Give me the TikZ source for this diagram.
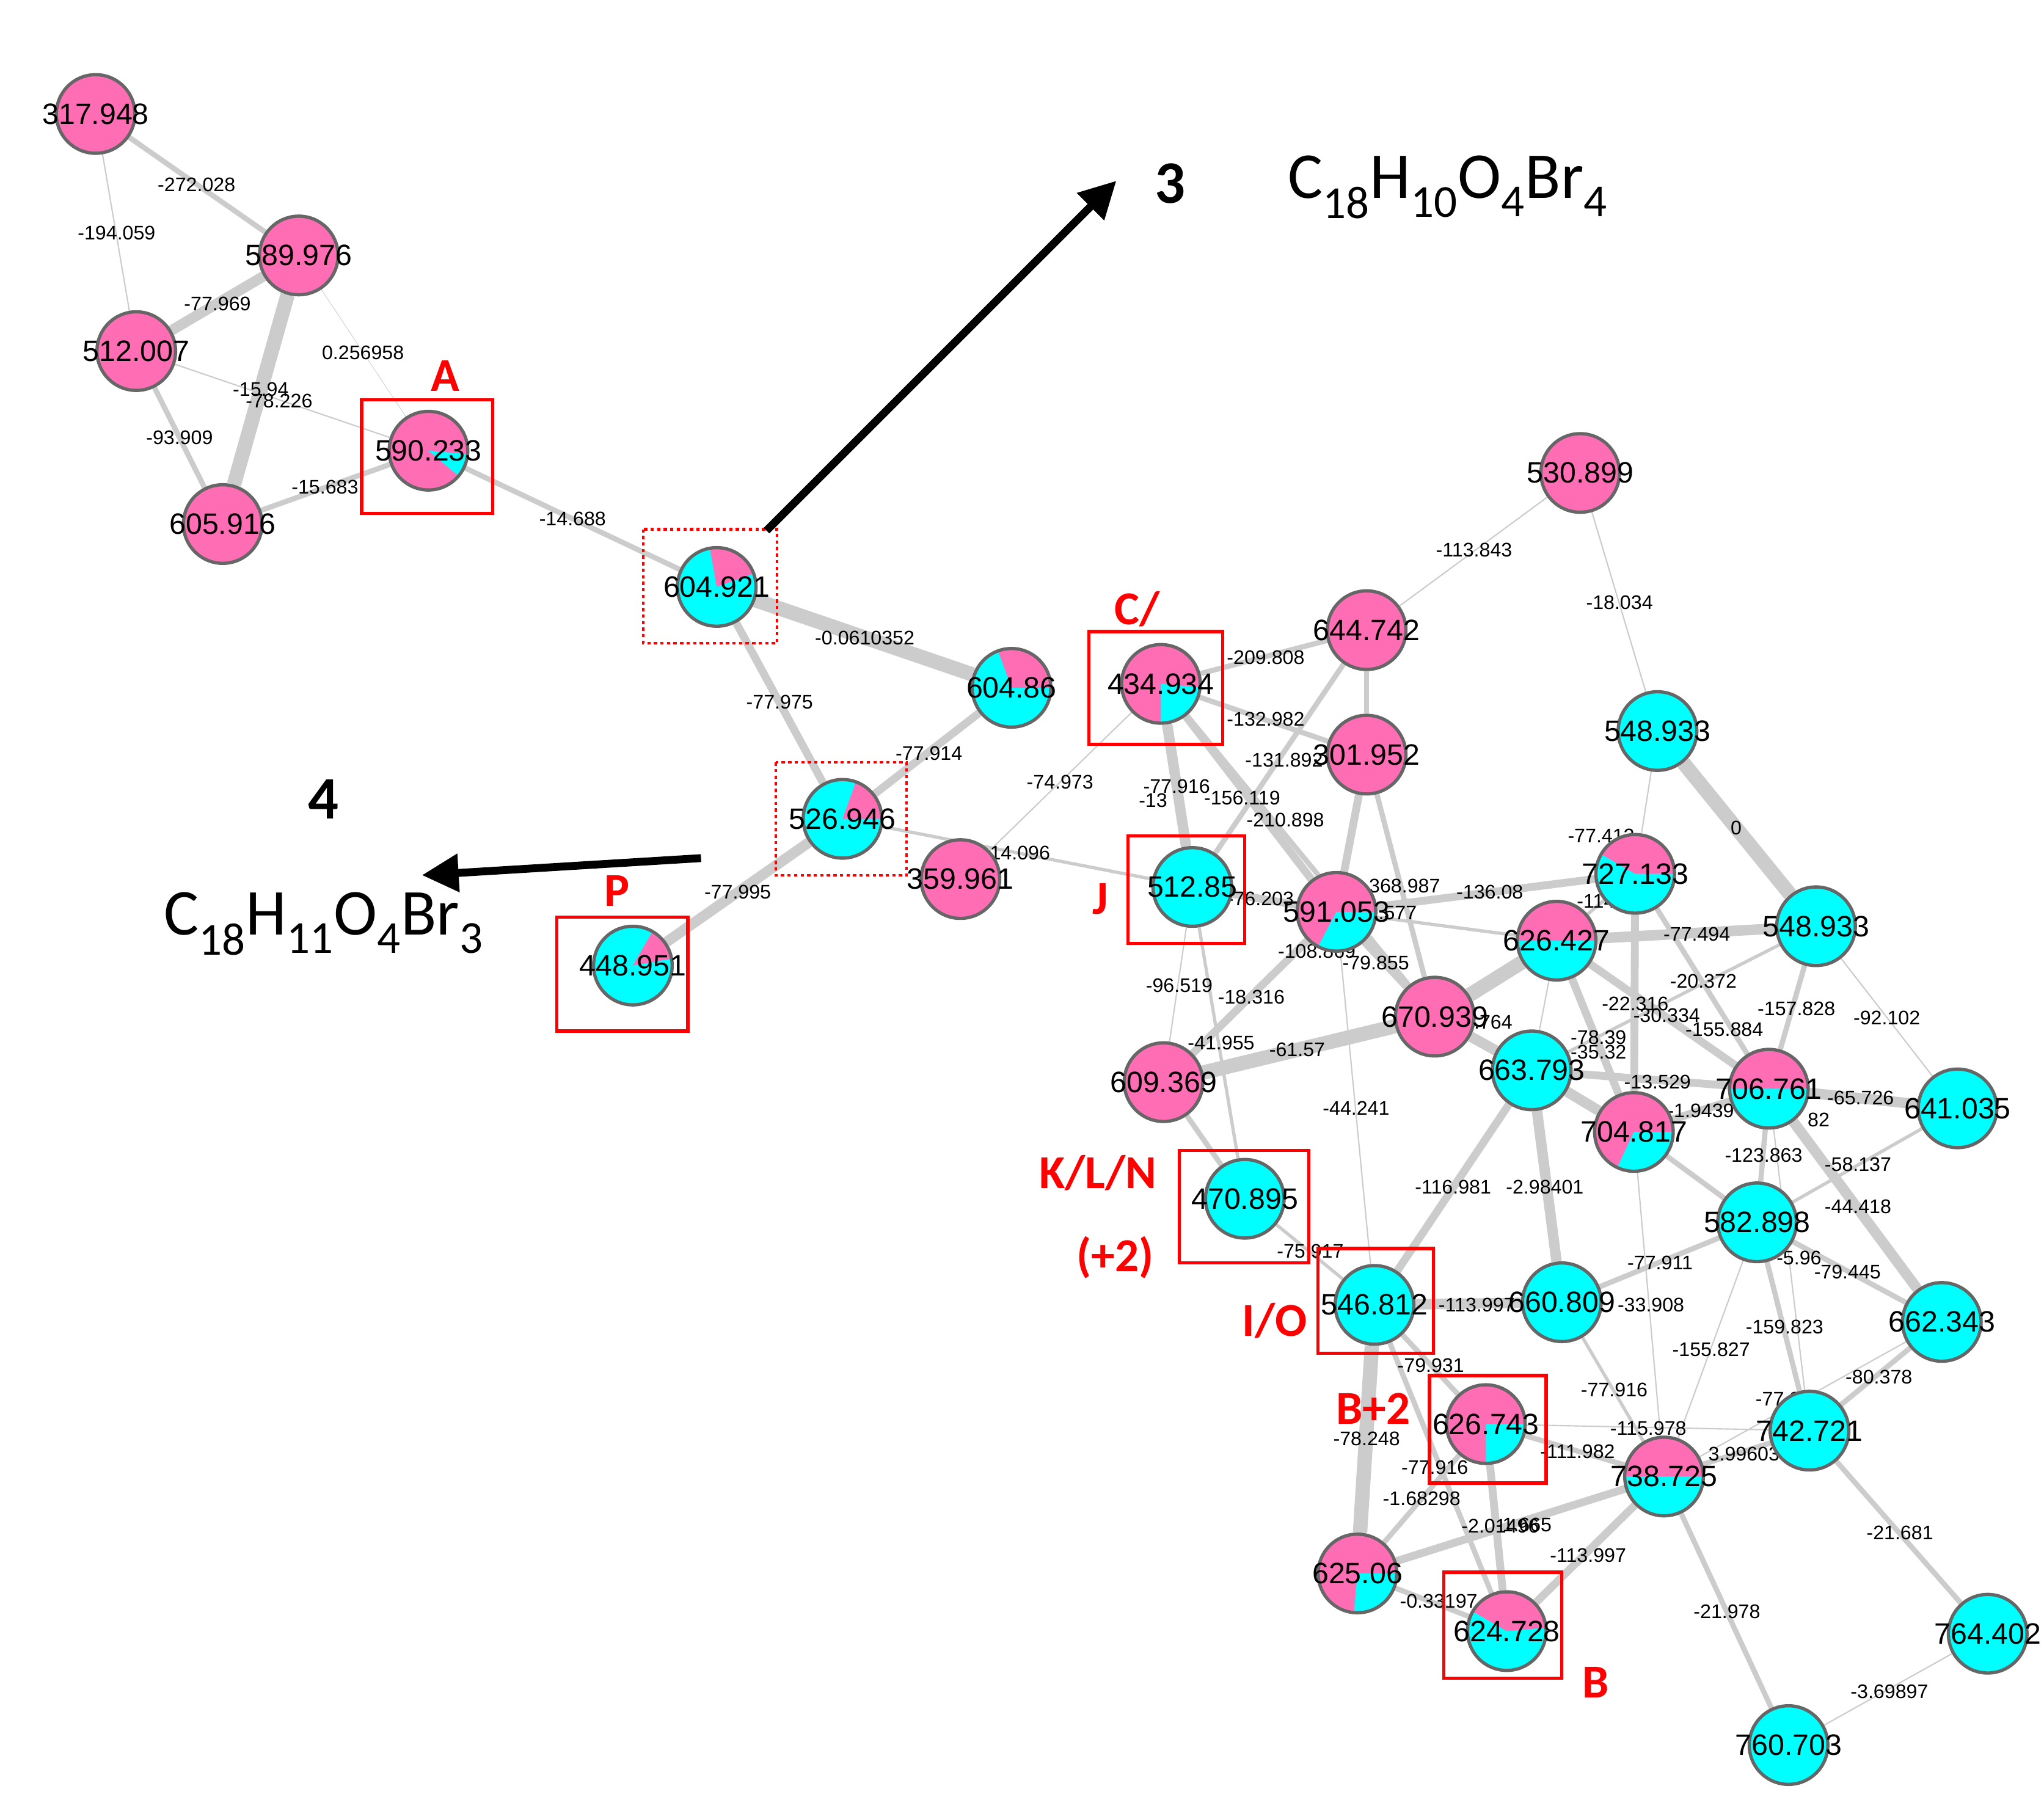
\documentclass[tikz,border=0pt]{standalone}
\usepackage{fontspec}
\setmainfont{Liberation Sans}
\newfontfamily\crlf{Carlito}
\usetikzlibrary{arrows.meta}
\definecolor{pk}{HTML}{FF6EB4}
\definecolor{cy}{HTML}{00FFFF}
\definecolor{eg}{HTML}{CCCCCC}
\definecolor{bd}{HTML}{666666}
\pgfdeclarelayer{bg}\pgfdeclarelayer{lab}
\pgfsetlayers{bg,lab,main}
\newcommand\pn[8]{%
 \fill[#5] (#2,#3) circle[radius=30pt];
 \fill[#6] (#2,#3) -- ++(#7:30pt) arc[start angle=#7,end angle=#8,radius=30pt] -- cycle;
 \node[nd,label={[font=\fontsize{22.5}{23}\selectfont]center:#4}] (#1) at (#2,#3) {};}
\newcommand\el[3]{\node[elab] at (#1,#2) {#3};}
\newcommand\sbs[1]{\textsubscript{#1}}
\begin{document}
\begin{tikzpicture}[x=1pt,y=-1pt,
 nd/.style={circle,draw=bd,line width=2.5pt,minimum size=60pt,inner sep=0pt},
 elab/.style={font=\fontsize{15}{15}\selectfont,inner sep=0pt},
 e1/.style={draw=eg,line width=1pt},
 e2/.style={draw=eg,line width=2.5pt},
 e3/.style={draw=eg,line width=4pt},
 e4/.style={draw=eg,line width=6pt},
 e5/.style={draw=eg,line width=8pt},
 e6/.style={draw=eg,line width=11pt},
 rb/.style={draw=red,line width=2.5pt},
 rd/.style={draw=red,line width=2pt,dash pattern=on 2.5pt off 2.5pt},
 rl/.style={text=red,font=\crlf\bfseries\fontsize{36}{36}\selectfont,inner sep=0pt}]
\useasboundingbox (0,0) rectangle (1560,1380);
% nodes
\pn{a1}{73}{87}{317.948}{pk}{pk}{0}{0}
\pn{a2}{228}{195}{589.976}{pk}{pk}{0}{0}
\pn{a3}{104}{268}{512.007}{pk}{pk}{0}{0}
\pn{a4}{170}{400}{605.916}{pk}{pk}{0}{0}
\pn{a5}{327}{344}{590.233}{pk}{cy}{-40}{-5}
\pn{b1}{547}{448}{604.921}{cy}{pk}{20}{100}
\pn{b2}{772}{525}{604.86}{cy}{pk}{0}{110}
\pn{b3}{643}{625}{526.946}{cy}{pk}{0}{70}
\pn{b4}{733}{671}{359.961}{pk}{pk}{0}{0}
\pn{b5}{483}{737}{448.951}{cy}{pk}{10}{60}
\pn{c1}{886}{522}{434.934}{pk}{cy}{-90}{-5}
\pn{c2}{1043}{481}{644.742}{pk}{pk}{0}{0}
\pn{c3}{1043}{576}{301.952}{pk}{pk}{0}{0}
\pn{c4}{1206}{361}{530.899}{pk}{pk}{0}{0}
\pn{c5}{1265}{558}{548.933}{cy}{cy}{0}{0}
\pn{d1}{910}{677}{512.85}{cy}{cy}{0}{0}
\pn{d2}{1020}{696}{591.053}{pk}{cy}{-118}{0}
\pn{d3}{1248}{667}{727.133}{cy}{pk}{0}{150}
\pn{d4}{1188}{718}{626.427}{cy}{pk}{0}{180}
\pn{d5}{1386}{707}{548.933}{cy}{cy}{0}{0}
\pn{e1}{1095}{776}{670.939}{pk}{pk}{0}{0}
\pn{e2}{888}{826}{609.369}{pk}{pk}{0}{0}
\pn{e3}{1169}{817}{663.793}{cy}{cy}{0}{0}
\pn{e4}{1247}{864}{704.817}{pk}{cy}{-115}{0}
\pn{e5}{1350}{831}{706.761}{cy}{pk}{0}{180}
\pn{e6}{1494}{846}{641.035}{cy}{cy}{0}{0}
\pn{f1}{950}{915}{470.895}{cy}{cy}{0}{0}
\pn{f2}{1341}{933}{582.898}{cy}{cy}{0}{0}
\pn{f3}{1049}{996}{546.812}{cy}{cy}{0}{0}
\pn{f4}{1192}{994}{660.809}{cy}{cy}{0}{0}
\pn{f5}{1482}{1009}{662.343}{cy}{cy}{0}{0}
\pn{g1}{1134}{1087}{626.743}{pk}{cy}{-90}{0}
\pn{g2}{1381}{1092}{742.721}{cy}{cy}{0}{0}
\pn{g3}{1270}{1127}{738.725}{cy}{pk}{0}{180}
\pn{g4}{1036}{1201}{625.06}{pk}{cy}{-95}{0}
\pn{g5}{1150}{1245}{624.728}{cy}{pk}{5}{150}
\pn{g6}{1517}{1247}{764.402}{cy}{cy}{0}{0}
\pn{g7}{1365}{1332}{760.703}{cy}{cy}{0}{0}
% edges
\begin{pgfonlayer}{bg}
\path[e3] (a1)--(a2); \path[e1] (a1)--(a3); \path[e5] (a3)--(a2);
\path[e6] (a2)--(a4); \path[e1] (a3)--(a5); \path[draw=eg,line width=0.4pt] (a2)--(a5);
\path[e3] (a3)--(a4); \path[e3] (a4)--(a5); \path[e3] (a5)--(b1);
\path[e6] (b1)--(b2); \path[e4] (b1)--(b3); \path[e4] (b3)--(b2);
\path[e5] (b3)--(b5); \path[e2] (b3)--(d1); \path[e1] (b4)--(c1);
\path[e3] (c1)--(c2); \path[e3] (c1)--(c3); \path[e5] (c1)--(d1);
\path[e4] (c1)--(d2); \path[e3] (c1)--(e1);
\path[e3] (c2)--(d1); \path[e3] (c2)--(c3); \path[e1] (c4)--(c2);
\path[e4] (c3)--(d2); \path[e3] (c3)--(e1); \path[e1] (c4)--(c5);
\path[e4] (d1)--(d2); \path[e1] (d1)--(e2); \path[e2] (d1)--(f1);
\path[e4] (d2)--(e2); \path[e4] (d2)--(d3); \path[e2] (d2)--(d4);
\path[e4] (d2)--(e1); \path[e1] (d2)--(f3);
\path[e6] (e1)--(e2); \path[e6] (e1)--(d4); \path[e5] (e1)--(e3);
\path[e5] (d4)--(d5); \path[e2] (d4)--(d3); \path[e4] (d4)--(e4);
\path[e4] (d4)--(e5); \path[e1] (d4)--(e3);
\path[e1] (d3)--(c5); \path[e4] (d3)--(e4); \path[e3] (d3)--(e5);
\path[e6] (c5)--(d5); \path[e3] (d5)--(e5); \path[e1] (d5)--(e6);
\path[e2] (d5)--(e3);
\path[e5] (e3)--(e4); \path[e4] (e3)--(e5); \path[e4] (e3)--(f3); \path[e5] (e3)--(f4);
\path[e4] (e4)--(e5); \path[e3] (e4)--(f2); \path[e1] (e4)--(g3);
\path[e5] (e5)--(e6); \path[e3] (e5)--(f2); \path[e5] (e5)--(f5);
\path[e2] (e6)--(f2); \path[e3] (f2)--(f4); \path[e3] (f2)--(f5);
\path[e3] (f2)--(g2); \path[e1] (f2)--(g3); \path[e1] (e5)--(g2);
\path[e3] (f5)--(g2); \path[e1] (f5)--(g3);
\path[e3] (f1)--(e2); \path[e2] (f1)--(f3);
\path[e5] (f3)--(f4); \path[e3] (f3)--(g1); \path[e6] (f3)--(g4); \path[e3] (f3)--(g5);
\path[e2] (f4)--(g3); \path[e3] (g1)--(g3); \path[e1] (g1)--(g2);
\path[e4] (g1)--(g5); \path[e3] (g1)--(g4);
\path[e4] (g4)--(g3); \path[e3] (g4)--(g5); \path[e4] (g5)--(g3);
\path[e3] (g3)--(g2); \path[e3] (g3)--(g7); \path[e3] (g2)--(g6); \path[e1] (g6)--(g7);
\end{pgfonlayer}
% edge labels
\begin{pgfonlayer}{lab}
\el{150}{141}{-272.028}\el{89}{178}{-194.059}\el{166}{232}{-77.969}
\el{277}{269}{0.256958}\el{199}{297}{-15.94}\el{213}{306}{-78.226}
\el{137}{334}{-93.909}\el{248}{372}{-15.683}\el{437}{396}{-14.688}
\el{660}{487}{-0.0610352}\el{595}{536}{-77.975}\el{709}{575}{-77.914}
\el{809}{597}{-74.973}\el{776}{651}{-14.096}\el{563}{681}{-77.995}
\el{966}{502}{-209.808}\el{966}{549}{-132.982}\el{980}{580}{-131.892}
\el{898}{600}{-77.916}\el{880}{611}{-13}\el{948}{609}{-156.119}
\el{981}{626}{-210.898}\el{962}{686}{-76.203}\el{1072}{676}{368.987}
\el{1137}{681}{-136.08}\el{1060}{697}{-1.577}\el{1005}{726}{-108.869}
\el{1050}{735}{-79.855}\el{900}{752}{-96.519}\el{955}{761}{-18.316}
\el{932}{796}{-41.955}\el{990}{801}{-61.57}\el{1035}{846}{-44.241}
\el{1133}{780}{-9.764}\el{1222}{638}{-77.412}\el{1218}{688}{-114}
\el{1295}{713}{-77.494}\el{1300}{749}{-20.372}\el{1248}{766}{-22.316}
\el{1272}{775}{-30.334}\el{1316}{786}{-155.884}\el{1371}{770}{-157.828}
\el{1440}{777}{-92.102}\el{1325}{632}{0}\el{1236}{460}{-18.034}
\el{1125}{420}{-113.843}\el{1220}{792}{-78.39}\el{1220}{803}{-35.32}
\el{1265}{826}{-13.529}\el{1298}{848}{-1.9439}\el{1420}{838}{-65.726}
\el{1388}{855}{82}\el{1346}{882}{-123.863}\el{1418}{889}{-58.137}
\el{1418}{921}{-44.418}\el{1373}{960}{-5.96}\el{1410}{971}{-79.445}
\el{1109}{906}{-116.981}\el{1179}{906}{-2.98401}\el{1267}{964}{-77.911}
\el{1260}{996}{-33.908}\el{1127}{996}{-113.997}\el{1000}{955}{-75.917}
\el{1362}{1013}{-159.823}\el{1306}{1030}{-155.827}\el{1434}{1051}{-80.378}
\el{1092}{1042}{-79.931}\el{1232}{1061}{-77.916}\el{1043}{1098}{-78.248}
\el{1258}{1090}{-115.978}\el{1204}{1108}{-111.982}\el{1331}{1110}{3.99603}
\el{1095}{1120}{-77.916}\el{1085}{1144}{-1.68298}\el{1145}{1165}{-2.01496}
\el{1163}{1164}{-1.665}\el{1212}{1187}{-113.997}\el{1098}{1222}{-0.33197}
\el{1318}{1230}{-21.978}\el{1450}{1170}{-21.681}\el{1442}{1291}{-3.69897}
\el{1357}{1068}{-77.9}
\end{pgfonlayer}
% boxes
\draw[rb] (276,305) rectangle (376,392);
\draw[rb] (831,482) rectangle (933,568);
\draw[rb] (861,638) rectangle (950,720);
\draw[rb] (425,700) rectangle (525,787);
\draw[rb] (900,878) rectangle (999,964);
\draw[rb] (1006,953) rectangle (1094,1033);
\draw[rb] (1091,1050) rectangle (1180,1132);
\draw[rb] (1102,1200) rectangle (1192,1281);
\draw[rd] (491,404) rectangle (593,491);
\draw[rd] (592,582) rectangle (692,668);
\node[rl] at (340,287) {A};
\node[rl] at (868,465) {C/};
\node[rl] at (840,686) {J};
\node[rl] at (471,680) {P};
\node[rl] at (838,895) {K/L/N};
\node[rl] at (851,960) {(+2)};
\node[rl] at (973,1008) {I/O};
\node[rl] at (1048,1075) {B+2};
\node[rl] at (1218,1284) {B};
% arrows
\coordinate (s3) at (585,405); \coordinate (t3) at (852,138);
\coordinate (s4) at (535,655); \coordinate (t4) at (322,668);
\draw[line width=6pt,-{Triangle[length=28pt,width=28pt]}] (s3) -- (t3);
\draw[line width=6pt,-{Triangle[length=28pt,width=28pt]}] (s4) -- (t4);
\node[font=\crlf\bfseries\fontsize{46}{46}\selectfont] at (893,140) {3};
\node[font=\crlf\fontsize{50}{50}\selectfont] at (1105,143) {C\sbs{18}H\sbs{10}O\sbs{4}Br\sbs{4}};
\node[font=\crlf\bfseries\fontsize{46}{46}\selectfont] at (247,610) {4};
\node[font=\crlf\fontsize{50}{50}\selectfont] at (247,705) {C\sbs{18}H\sbs{11}O\sbs{4}Br\sbs{3}};
\end{tikzpicture}
\end{document}
